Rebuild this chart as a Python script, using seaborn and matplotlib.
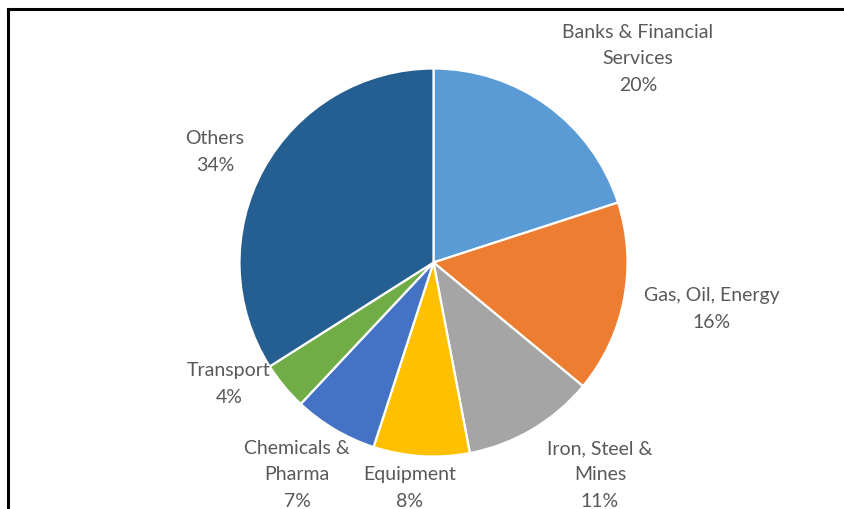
import matplotlib
matplotlib.use("Agg")
import matplotlib.pyplot as plt
import seaborn as sns
import numpy as np

categories = ["Banks & Financial\nServices", "Gas, Oil, Energy", "Iron, Steel &\nMines",
              "Equipment", "Chemicals &\nPharma", "Transport", "Others"]
shares = [20, 16, 11, 8, 7, 4, 34]
colors = ["#5B9BD5", "#ED7D31", "#A5A5A5", "#FFC000", "#4472C4", "#70AD47", "#255E91"]

# label anchor positions in pixel layout (x, y from top)
label_pos = [(638, 59), (712, 309), (600, 475), (410, 488), (297, 475), (229, 384), (215, 152)]

sns.set_theme(style="white")
plt.rcParams['font.family'] = ['Lato', 'DejaVu Sans']

W, H = 845, 510
fig = plt.figure(figsize=(W / 100, H / 100), dpi=100)
ax = fig.add_axes([0, 0, 1, 1])
ax.set_xlim(0, W)
ax.set_ylim(0, H)
ax.set_aspect("equal")
ax.axis("off")

cx, cy, r = 433.5, H - 263.5, 194
ax.pie(shares, colors=sns.color_palette(colors), startangle=90, counterclock=False,
       center=(cx, cy), radius=r, frame=True,
       wedgeprops=dict(edgecolor="white", linewidth=1.6))
ax.set_xlim(0, W)
ax.set_ylim(0, H)
ax.axis("off")

for cat, val, (lx, ly) in zip(categories, shares, label_pos):
    ax.text(lx, H - ly, f"{cat}\n{val}%", ha="center", va="center",
            fontsize=14, color="#595959", linespacing=1.66)

# frame lines (top and left)
ax.plot([8.5, W], [H - 9.5, H - 9.5], color="black", lw=2.2, solid_capstyle="projecting")
ax.plot([8.5, 8.5], [0, H - 9.5], color="black", lw=2.2, solid_capstyle="projecting")

fig.savefig("out.png", dpi=100)
